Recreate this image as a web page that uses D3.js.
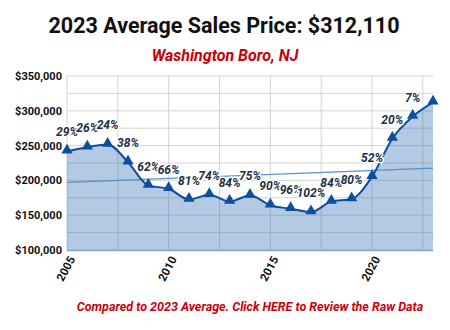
<!DOCTYPE html>
<html><head><meta charset="utf-8">
<script src="https://cdn.jsdelivr.net/npm/d3@7"></script>
<style>
html,body{margin:0;padding:0;background:#fff;}
svg{display:block;font-family:Roboto,"Liberation Sans",sans-serif;}
</style></head>
<body>
<svg id="c" width="450" height="330"></svg>
<script>
const years = [2005,2006,2007,2008,2009,2010,2011,2012,2013,2014,2015,2016,2017,2018,2019,2020,2021,2022,2023];
const prices = [241946,247706,251702,226167,192660,188018,172436,179374,169625,178349,164268,159240,154510,169625,173394,205336,260092,291692,312110];
const pctLabels = ["29%","26%","24%","38%","62%","66%","81%","74%","84%","75%","90%","96%","102%","84%","80%","52%","20%","7%",""];
const trendYears = [2005,2023];
const trendValues = [197050,217500];
const yTicks = [100000,150000,200000,250000,300000,350000];
const yMinor = [125000,175000,225000,275000,325000];
const xTicks = [2005,2010,2015,2020];
const xMinor = [2007.5,2012.5,2017.5,2022.5];
const titleText = "2023 Average Sales Price: $312,110";
const subtitleText = "Washington Boro, NJ";
const footerText = "Compared to 2023 Average. Click HERE to Review the Raw Data";

const svg = d3.select("#c");
const x = d3.scaleLinear().domain([2005,2023]).range([67,433]);
const y = d3.scaleLinear().domain([100000,350000]).range([250,76]);

// gridlines
const g = svg.append("g");
g.selectAll("line.h").data(yTicks.concat(yMinor)).join("line")
  .attr("x1",67).attr("x2",433).attr("y1",d=>y(d)).attr("y2",d=>y(d))
  .attr("stroke","#d4d4d4").attr("stroke-width",1);
g.selectAll("line.v").data(xTicks.concat(xMinor)).join("line")
  .attr("y1",76).attr("y2",250).attr("x1",d=>x(d)).attr("x2",d=>x(d))
  .attr("stroke","#d4d4d4").attr("stroke-width",1);

const data = years.map((yr,i)=>({yr, v:prices[i], p:pctLabels[i]}));

// area
const area = d3.area().x(d=>x(d.yr)).y0(y(100000)).y1(d=>y(d.v)).curve(d3.curveMonotoneX);
svg.append("path").datum(data).attr("d",area)
  .attr("fill","#2f6db3").attr("fill-opacity",0.36);

// bottom axis line
svg.append("line").attr("x1",67).attr("x2",433).attr("y1",250.5).attr("y2",250.5)
  .attr("stroke","#8aa6c6").attr("stroke-width",1.5);

// trend line
svg.append("path").datum(trendYears.map((t,i)=>({yr:t,v:trendValues[i]})))
  .attr("d", d3.line().x(d=>x(d.yr)).y(d=>y(d.v)))
  .attr("stroke","#5a90c8").attr("stroke-width",1.3).attr("fill","none");

// line
const line = d3.line().x(d=>x(d.yr)).y(d=>y(d.v)).curve(d3.curveMonotoneX);
svg.append("path").datum(data).attr("d",line)
  .attr("stroke","#0c4f9c").attr("stroke-width",2).attr("fill","none");

// markers
svg.selectAll("path.m").data(data).join("path")
  .attr("d", d3.symbol().type(d3.symbolTriangle).size(55))
  .attr("transform", d=>`translate(${x(d.yr)},${y(d.v)-1})`)
  .attr("fill","#0c4f9c");

// pct labels
svg.selectAll("text.p").data(data).join("text")
  .attr("x", d=>x(d.yr)).attr("y", d=>y(d.v)-15)
  .attr("text-anchor","middle")
  .attr("font-size",12).attr("font-weight","bold").attr("font-style","italic")
  .attr("fill","#1b2f45").attr("stroke","#fff").attr("stroke-width",3)
  .attr("paint-order","stroke").attr("stroke-linejoin","round")
  .text(d=>d.p);

// y axis labels
const yAxis = d3.axisLeft(y).tickValues(yTicks).tickSize(0).tickPadding(5)
  .tickFormat(d=>"$"+d3.format(",")(d));
const ya = svg.append("g").attr("transform","translate(67,0)").call(yAxis);
ya.select(".domain").remove();
ya.selectAll("text").attr("font-size",11).attr("font-weight","bold")
  .attr("fill","#111").attr("font-family","Roboto");

// x axis labels
const xAxis = d3.axisBottom(x).tickValues(xTicks).tickSize(0).tickFormat(d3.format("d"));
const xa = svg.append("g").attr("transform","translate(0,250)").call(xAxis);
xa.select(".domain").remove();
xa.selectAll("text").attr("font-size",11.5).attr("font-weight","bold")
  .attr("fill","#111").attr("font-family","Roboto")
  .attr("text-anchor","end").attr("dy",0).attr("y",0)
  .attr("transform","translate(8,9) rotate(-62)");

// titles
svg.append("text").attr("x",224).attr("y",33).attr("text-anchor","middle")
  .attr("font-size",21.5).attr("font-weight","bold").attr("fill","#111").text(titleText);
svg.append("text").attr("x",225).attr("y",61).attr("text-anchor","middle")
  .attr("font-size",16).attr("font-weight","bold").attr("font-style","italic")
  .attr("fill","#c8000a").text(subtitleText);
svg.append("text").attr("x",250).attr("y",311).attr("text-anchor","middle")
  .attr("font-size",12.5).attr("font-weight","bold").attr("font-style","italic")
  .attr("fill","#c8000a").text(footerText);
</script>
</body></html>
